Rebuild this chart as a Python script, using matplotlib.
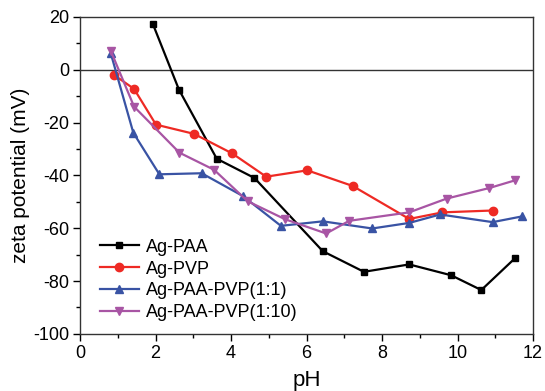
import matplotlib
matplotlib.use("Agg")
from matplotlib import pyplot as plt

plt.rcParams['font.family'] = ['Liberation Sans', 'DejaVu Sans']
plt.rcParams['axes.unicode_minus'] = False

# Ag-PAA
ph_paa = [1.93, 2.62, 3.62, 4.62, 6.43, 7.52, 8.72, 9.83, 10.63, 11.52]
zeta_paa = [17.2, -7.6, -33.7, -41.0, -68.7, -76.5, -73.7, -77.8, -83.4, -71.4]

# Ag-PVP
ph_pvp = [0.89, 1.43, 2.01, 3.02, 4.03, 4.93, 6.02, 7.22, 8.72, 9.6, 10.93]
zeta_pvp = [-1.9, -7.3, -20.8, -24.3, -31.7, -40.5, -38.1, -44.0, -56.5, -54.0, -53.3]

# Ag-PAA-PVP(1:1)
ph_11 = [0.81, 1.41, 2.10, 3.22, 4.31, 5.32, 6.43, 7.74, 8.72, 9.54, 10.93, 11.72]
zeta_11 = [6.3, -23.9, -39.6, -39.2, -47.8, -59.1, -57.4, -60.1, -58.0, -54.8, -57.7, -55.5]

# Ag-PAA-PVP(1:10)
ph_110 = [0.81, 1.43, 2.63, 3.55, 4.44, 5.43, 6.52, 7.13, 8.72, 9.71, 10.84, 11.52]
zeta_110 = [7.2, -14.0, -31.4, -37.9, -49.8, -56.6, -62.0, -57.2, -54.0, -48.8, -44.8, -41.9]

fig = plt.figure(figsize=(5.45, 3.91), dpi=100)
ax = fig.add_axes([0.147, 0.146, 0.831, 0.811])

ax.axhline(0, color='#333333', lw=1.0, zorder=1)

ax.plot(ph_paa, zeta_paa, color='black', marker='s', ms=5, lw=1.6, label='Ag-PAA')
ax.plot(ph_pvp, zeta_pvp, color='#ee2a24', marker='o', ms=6, lw=1.6, label='Ag-PVP')
ax.plot(ph_11, zeta_11, color='#3953a4', marker='^', ms=6, lw=1.6, label='Ag-PAA-PVP(1:1)')
ax.plot(ph_110, zeta_110, color='#a855a4', marker='v', ms=6, lw=1.6, label='Ag-PAA-PVP(1:10)')

ax.set_xlim(0, 12)
ax.set_ylim(-100, 20)
ax.set_xticks(range(0, 13, 2))
ax.set_xticks(range(1, 12, 2), minor=True)
ax.set_yticks(range(-100, 21, 20))
ax.set_yticks(range(-90, 20, 20), minor=True)
ax.tick_params(axis='both', which='major', labelsize=13, length=5, width=1, direction='out',
               top=False, right=False, pad=3)
ax.tick_params(axis='both', which='minor', length=3, width=1, direction='out',
               top=False, right=False)
for s in ax.spines.values():
    s.set_color('#333333')
    s.set_linewidth(1.0)

ax.set_xlabel('pH', fontsize=16, labelpad=6)
ax.set_ylabel('zeta potential (mV)', fontsize=15, labelpad=2)

ax.legend(loc='lower left', bbox_to_anchor=(0.015, 0.0), frameon=False, fontsize=13,
          handlelength=2.2, handletextpad=0.35, labelspacing=0.27, borderaxespad=0.3)

fig.savefig('out.png', dpi=100)
